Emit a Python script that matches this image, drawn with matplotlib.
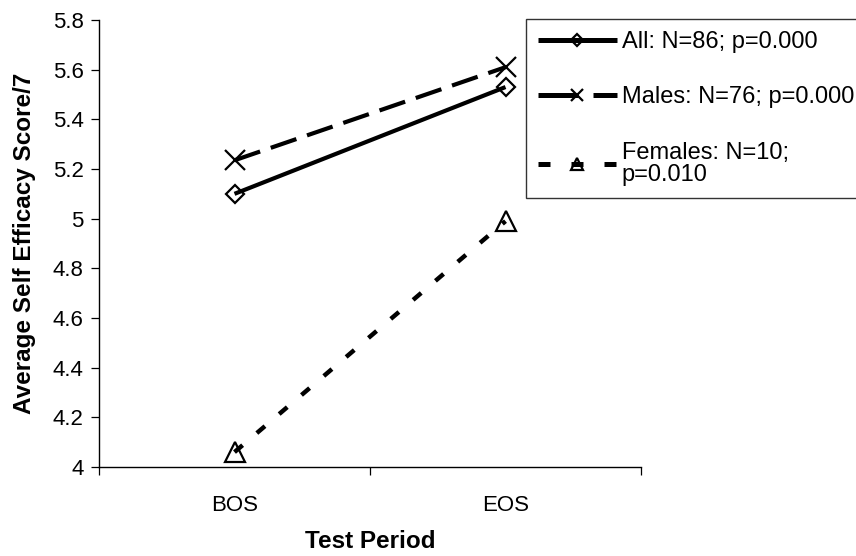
import matplotlib
matplotlib.use("Agg")
import matplotlib.pyplot as plt
from matplotlib.ticker import FixedLocator, FuncFormatter

periods = ["BOS", "EOS"]
all_vals = [5.10, 5.53]
male_vals = [5.235, 5.61]
female_vals = [4.06, 4.99]
labels = ["All: N=86; p=0.000", "Males: N=76; p=0.000", "Females: N=10;\np=0.010"]
yticks = [4.0, 4.2, 4.4, 4.6, 4.8, 5.0, 5.2, 5.4, 5.6, 5.8]

plt.rcParams['font.family'] = ['Liberation Sans', 'DejaVu Sans']

fig = plt.figure(figsize=(8.56, 5.56), dpi=100)
ax = fig.add_axes([99/856, 1-467/556, (641-99)/856, (467-20)/556])

x = list(range(len(periods)))
lw = 3.0
l1, = ax.plot(x, all_vals, color='black', lw=lw, marker='D', ms=9.5, mfc='none', mec='black', mew=1.6,
              label=labels[0], solid_capstyle='butt')
l2, = ax.plot(x, male_vals, color='black', lw=lw, ls=(0, (6.5, 2.7)), marker='x', ms=14, mec='black', mew=1.6,
              label=labels[1], dash_capstyle='butt')
l3, = ax.plot(x, female_vals, color='black', lw=3.2, ls=(0, (2.4, 4.2)), marker='^', ms=14, mfc='none', mec='black', mew=1.6,
              label=labels[2], dash_capstyle='butt')

ax.set_xlim(-0.5, len(periods) - 0.5)
ax.set_ylim(4.0, 5.8)
ax.yaxis.set_major_locator(FixedLocator(yticks))
ax.yaxis.set_major_formatter(FuncFormatter(lambda v, p: f"{v:g}"))

ax.xaxis.set_major_locator(FixedLocator([-0.5, 0.5, 1.5]))
ax.xaxis.set_major_formatter(FuncFormatter(lambda v, p: ""))
ax.xaxis.set_minor_locator(FixedLocator(x))
ax.set_xticks(x, minor=True)
ax.set_xticklabels(periods, minor=True)
ax.tick_params(axis='x', which='minor', length=0, pad=20, labelsize=16)
ax.tick_params(axis='x', which='major', length=6, width=0.9, direction='out')
ax.tick_params(axis='y', which='major', length=6, width=0.9, direction='out', labelsize=16, pad=5)

for s in ['top', 'right']:
    ax.spines[s].set_visible(False)
for s in ['left', 'bottom']:
    ax.spines[s].set_linewidth(1.0)

ax.set_xlabel("Test Period", fontsize=17.5, fontweight='bold', labelpad=10)
ax.set_ylabel("Average Self Efficacy Score/7", fontsize=17.5, fontweight='bold', labelpad=12)

leg = fig.legend(handles=[l1, l2, l3], loc='upper left', bbox_to_anchor=(526/856, 1-19/556),
                 bbox_transform=fig.transFigure, borderaxespad=0, fontsize=17, frameon=True,
                 fancybox=False, edgecolor='black', markerscale=0.65, handlelength=3.35,
                 handletextpad=0.2, borderpad=0.5, labelspacing=1.42)
leg.get_frame().set_linewidth(1.0)
for t in leg.get_texts():
    t.set_linespacing(1.0)
leg_lines = leg.get_lines()
for ln in leg_lines:
    ln.set_linewidth(3.6)
leg_lines[1].set_linestyle((0, (8.0, 3.0)))

fig.savefig("out.png", dpi=100)
